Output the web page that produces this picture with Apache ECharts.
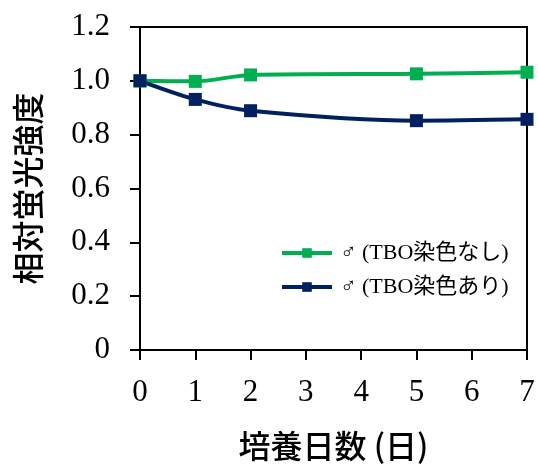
<!DOCTYPE html>
<html><head><meta charset="utf-8">
<script src="https://cdn.jsdelivr.net/npm/echarts@6/dist/echarts.min.js"></script>
<style>html,body{margin:0;padding:0;background:#fff}#c{width:538px;height:467px}</style>
</head><body><div id="c"></div>
<script>
const days = [0, 1, 2, 5, 7];
const noStain = [1.0, 0.998, 1.022, 1.026, 1.032];
const withStain = [1.0, 0.931, 0.889, 0.852, 0.857];
const seriesNames = ['♂ (TBO染色なし)', '♂ (TBO染色あり)'];
const xTitle = '培養日数 (日)';
const yTitle = '相対蛍光強度';

const chart = echarts.init(document.getElementById('c'));
const serif = '"Liberation Serif", "Times New Roman", serif';
const jp = '"Noto Sans CJK JP", sans-serif';
const mixed = '"Liberation Serif", "Noto Sans CJK JP", serif';
chart.setOption({
  animation: false,
  grid: {left: 140, right: 11, top: 27, bottom: 117, show: true, borderColor: '#000', borderWidth: 2,
         containLabel: false, outerBoundsMode: 'none'},
  legend: {
    orient: 'vertical', left: 275, top: 237, itemGap: 12, itemWidth: 50, itemHeight: 12,
    data: seriesNames,
    lineStyle: {width: 4},
    textStyle: {fontSize: 22, color: '#000', fontFamily: mixed, padding: [0,0,0,3]}
  },
  xAxis: {
    type: 'value', min: 0, max: 7, interval: 1,
    name: xTitle, nameLocation: 'middle', nameGap: 80,
    nameTextStyle: {fontSize: 32, color: '#000', fontFamily: jp, fontWeight: 500},
    axisLine: {show: true, lineStyle: {color: '#000', width: 2}},
    axisTick: {show: true, length: 10, lineStyle: {color: '#000', width: 2}},
    axisLabel: {fontSize: 31, color: '#000', fontFamily: serif, margin: 27},
    splitLine: {show: false}
  },
  yAxis: {
    type: 'value', min: 0, max: 1.2, interval: 0.2,
    name: yTitle, nameLocation: 'middle', nameGap: 96, nameRotate: 90,
    nameTextStyle: {fontSize: 32, color: '#000', fontFamily: jp, fontWeight: 500},
    axisLine: {show: true, lineStyle: {color: '#000', width: 2}},
    axisTick: {show: true, length: 10, lineStyle: {color: '#000', width: 2}},
    axisLabel: {fontSize: 31, color: '#000', fontFamily: serif, margin: 30,
      formatter: v => v === 0 ? '0' : v.toFixed(1)},
    splitLine: {show: false}
  },
  series: [
    {name: seriesNames[0], type: 'line', smooth: 0.3, symbol: 'rect', symbolSize: 13,
     data: days.map((d,i)=>[d, noStain[i]]),
     lineStyle: {color: '#00b050', width: 4}, itemStyle: {color: '#00b050'}},
    {name: seriesNames[1], type: 'line', smooth: 0.3, symbol: 'rect', symbolSize: 13,
     data: days.map((d,i)=>[d, withStain[i]]),
     lineStyle: {color: '#002060', width: 4}, itemStyle: {color: '#002060'}}
  ]
});
</script></body></html>
